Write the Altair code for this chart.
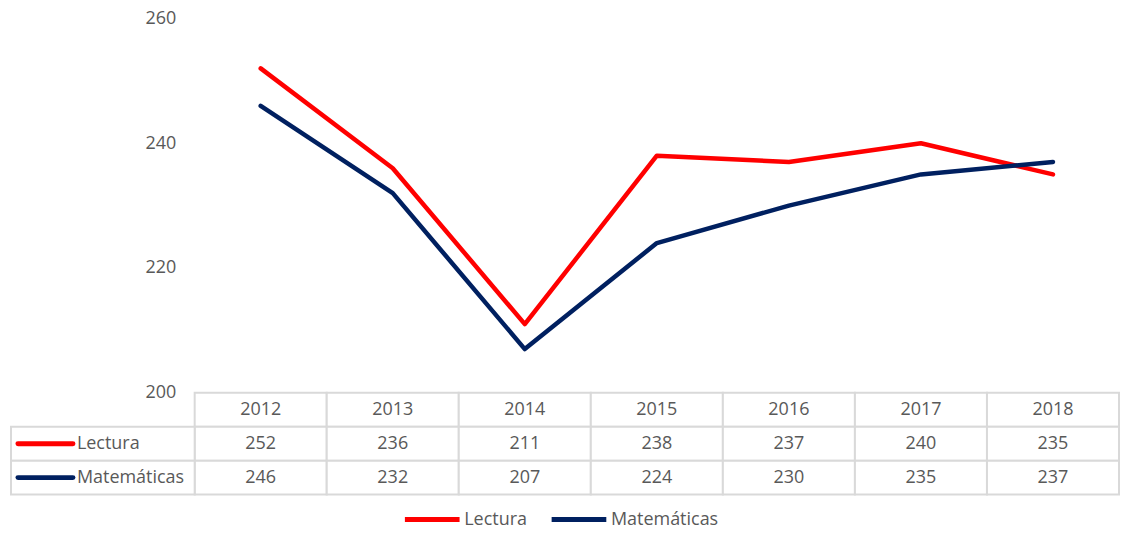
import altair as alt
import pandas as pd

# ---- data ----
years = ["2012", "2013", "2014", "2015", "2016", "2017", "2018"]
series = ["Lectura", "Matemáticas"]
lectura = [252, 236, 211, 238, 237, 240, 235]
matematicas = [246, 232, 207, 224, 230, 235, 237]
y_ticks = [200, 220, 240, 260]
colors = ["#FF0000", "#002060"]

# ---- layout / style constants ----
LABEL_COL = -1.391          # width of the data-table label column, in column units
N = len(years)
PLOT_W = 1110
TOP_H = 375
TABLE_H = 102
GRID = "#D9D9D9"
TEXT = "#595959"
FONT = "Open Sans"
FS = 18

rows = []
for si, (s, vals) in enumerate(zip(series, [lectura, matematicas])):
    for i, (yr, v) in enumerate(zip(years, vals)):
        rows.append({"series": s, "year": yr, "col": i, "row": si + 1, "value": v, "text": str(v)})
df = pd.DataFrame(rows)

header = pd.DataFrame({"year": years, "col": list(range(N)), "row": 0, "text": years})
cells = pd.concat([header, df[["year", "col", "row", "text"]]], ignore_index=True)
labels = pd.DataFrame({"series": series, "row": [i + 1 for i in range(len(series))]})

xscale = alt.Scale(domain=[LABEL_COL, N], nice=False, zero=False)
cscale = alt.Scale(domain=series, range=colors)
legend = alt.Legend(
    orient="none", legendX=392, legendY=472, direction="horizontal",
    title=None, symbolType="stroke", symbolStrokeWidth=5, symbolSize=3000,
    labelFont=FONT, labelFontSize=FS, labelColor=TEXT, labelOffset=2,
    columnPadding=14, padding=0,
)

# ---- top panel: lines ----
lines = alt.Chart(df).transform_calculate(xc="datum.col + 0.5").mark_line(
    strokeWidth=4.5, strokeCap="round", strokeJoin="round"
).encode(
    x=alt.X("xc:Q", scale=xscale, axis=None),
    y=alt.Y("value:Q", scale=alt.Scale(domain=[200, 260], nice=False, zero=False),
            axis=alt.Axis(values=y_ticks, grid=False, domain=False, ticks=False,
                          offset=LABEL_COL * PLOT_W / (N - LABEL_COL), labelPadding=19,
                          labelFont=FONT, labelFontSize=FS, labelColor=TEXT, title=None)),
    color=alt.Color("series:N", scale=cscale, legend=legend),
    detail="series:N",
).properties(width=PLOT_W, height=TOP_H)

# ---- bottom panel: data table ----
yt = alt.Scale(domain=[0, 3], reverse=True, nice=False, zero=False)

cell_rects = alt.Chart(cells).transform_calculate(x1="datum.col + 1", r1="datum.row + 1").mark_rect(
    fill="white", stroke=GRID, strokeWidth=2
).encode(
    x=alt.X("col:Q", scale=xscale, axis=None), x2="x1:Q",
    y=alt.Y("row:Q", scale=yt, axis=None), y2="r1:Q",
)
cell_text = alt.Chart(cells).transform_calculate(xc="datum.col + 0.5", rc="datum.row + 0.5").mark_text(
    font=FONT, fontSize=FS, color=TEXT, align="center", baseline="middle"
).encode(
    x=alt.X("xc:Q", scale=xscale, axis=None),
    y=alt.Y("rc:Q", scale=yt, axis=None),
    text="text:N",
)
label_rects = alt.Chart(labels).transform_calculate(
    x0=str(LABEL_COL), x1="0", r1="datum.row + 1"
).mark_rect(fill="white", stroke=GRID, strokeWidth=2).encode(
    x=alt.X("x0:Q", scale=xscale, axis=None), x2="x1:Q",
    y=alt.Y("row:Q", scale=yt, axis=None), y2="r1:Q",
)
swatches = alt.Chart(labels).transform_calculate(
    s0=str(LABEL_COL + 0.053), s1=str(LABEL_COL + 0.469), rc="datum.row + 0.5"
).mark_rule(strokeWidth=5, strokeCap="round").encode(
    x=alt.X("s0:Q", scale=xscale, axis=None), x2="s1:Q",
    y=alt.Y("rc:Q", scale=yt, axis=None),
    color=alt.Color("series:N", scale=cscale, legend=legend),
)
label_text = alt.Chart(labels).transform_calculate(
    tx=str(LABEL_COL + 0.499), rc="datum.row + 0.5"
).mark_text(font=FONT, fontSize=FS, color=TEXT, align="left", baseline="middle").encode(
    x=alt.X("tx:Q", scale=xscale, axis=None),
    y=alt.Y("rc:Q", scale=yt, axis=None),
    text="series:N",
)
table = alt.layer(cell_rects, label_rects, cell_text, swatches, label_text).properties(
    width=PLOT_W, height=TABLE_H
)

chart = alt.vconcat(lines, table, spacing=0, bounds="flush").resolve_scale(color="shared").properties(
    padding={"left": 2, "top": 1, "right": 0, "bottom": 0}
).configure(background="white").configure_view(stroke=None)

chart.save("out.html", embed_options={"renderer": "svg", "actions": False})
